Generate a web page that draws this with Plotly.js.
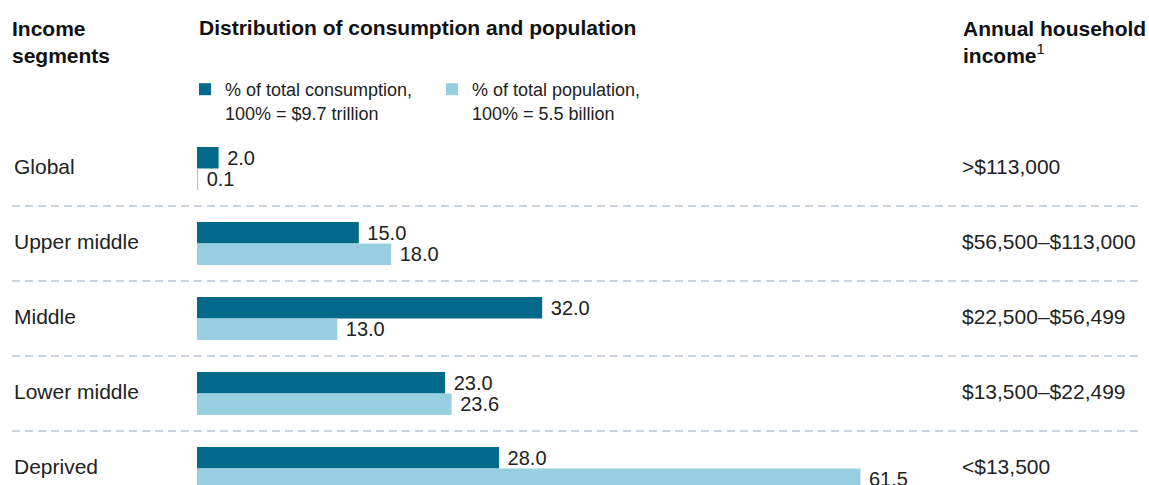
<!DOCTYPE html>
<html>
<head>
<meta charset="utf-8">
<script src="https://cdn.plot.ly/plotly-3.0.1.min.js"></script>
<style>html,body{margin:0;padding:0;background:#fff;}#chart{width:1149px;height:485px;}</style>
</head>
<body>
<div id="chart"></div>
<script>
const segments = ["Global", "Upper middle", "Middle", "Lower middle", "Deprived"];
const consumption = [2.0, 15.0, 32.0, 23.0, 28.0];
const population = [0.1, 18.0, 13.0, 23.6, 61.5];
const incomeRanges = [">$113,000", "$56,500–$113,000", "$22,500–$56,499", "$13,500–$22,499", "<$13,500"];
const consumptionName = "% of total consumption,<br>100% = $9.7 trillion";
const populationName = "% of total population,<br>100% = 5.5 billion";

const FONT = "Liberation Sans, Arial, Helvetica, sans-serif";
const DARK = "#016a8a";
const LIGHT = "#97cfe1";
const TEXT = "#222222";

const W = 1149, H = 485;
const M = {l: 197, r: 89, t: 131, b: 0};
const plotW = W - M.l - M.r, plotH = H - M.t - M.b;
const px = x => (x - M.l) / plotW;          // pixel x -> paper x
const py = y => (H - M.b - y) / plotH;      // pixel y -> paper y

const traces = [
  {
    type: "bar", orientation: "h", name: consumptionName,
    y: segments, x: consumption,
    marker: {color: DARK, line: {width: 0}},
    text: consumption.map(v => "\u00a0" + v.toFixed(1)),
    textposition: "outside", constraintext: "none", cliponaxis: false,
    textfont: {family: FONT, size: 20, color: TEXT},
    hoverinfo: "skip"
  },
  {
    type: "bar", orientation: "h", name: populationName,
    y: segments, x: population,
    marker: {color: LIGHT, line: {width: 0}},
    text: population.map(v => "\u00a0" + v.toFixed(1)),
    textposition: "outside", constraintext: "none", cliponaxis: false,
    textfont: {family: FONT, size: 20, color: TEXT},
    hoverinfo: "skip"
  }
];

const annotations = [];
segments.forEach((s, i) => {
  annotations.push({xref: "paper", yref: "y", x: px(12), y: s, xanchor: "left", yanchor: "middle", yshift: 2,
    text: s, showarrow: false, font: {family: FONT, size: 21, color: TEXT}});
  annotations.push({xref: "paper", yref: "y", x: px(960), y: s, xanchor: "left", yanchor: "middle", yshift: 2,
    text: incomeRanges[i], showarrow: false, font: {family: FONT, size: 21, color: TEXT}});
});
annotations.push({xref: "paper", yref: "paper", x: px(10), y: py(41.5), xanchor: "left", yanchor: "middle",
  align: "left", text: "Income<br>segments", showarrow: false,
  font: {family: FONT, size: 21, color: "#111", weight: "bold"}});
annotations.push({xref: "paper", yref: "paper", x: px(961), y: py(41.5), xanchor: "left", yanchor: "middle",
  align: "left", text: "Annual household<br>income<span style=\"font-weight:normal\"><sup>1</sup></span>", showarrow: false,
  font: {family: FONT, size: 21, color: "#111", weight: "bold"}});

const shapes = [];
for (let i = 0; i < segments.length - 1; i++) {
  shapes.push({type: "line", xref: "paper", yref: "y", x0: px(12), x1: px(1140), y0: i + 0.5, y1: i + 0.5,
    line: {color: "#b9c6d3", width: 1.5, dash: "8px,5px"}, layer: "below"});
}

const layout = {
  width: W, height: H,
  margin: M,
  paper_bgcolor: "#fff", plot_bgcolor: "#fff",
  font: {family: FONT, color: TEXT},
  title: {text: "Distribution of consumption and population", xref: "paper", x: px(199), xanchor: "left",
    yref: "container", y: 1 - 28 / H, yanchor: "middle",
    font: {family: FONT, size: 21, color: "#111", weight: "bold"}},
  barmode: "group", bargap: 1 - 43 / 75, bargroupgap: 0,
  xaxis: {range: [0, 80], visible: false, fixedrange: true},
  yaxis: {type: "category", categoryorder: "array", categoryarray: segments,
    range: [segments.length - 1 + (plotH / 75 - segments.length) + 0.5, -0.5],
    showticklabels: false, showgrid: false, zeroline: false, showline: false, ticks: "", fixedrange: true},
  showlegend: true,
  legend: {orientation: "h", x: px(185), xanchor: "left", y: py(71), yanchor: "top",
    traceorder: "normal", valign: "top", entrywidth: 202, entrywidthmode: "pixels",
    font: {family: FONT, size: 18, color: TEXT}, bgcolor: "rgba(0,0,0,0)", borderwidth: 0},
  annotations: annotations,
  shapes: shapes
};

Plotly.newPlot("chart", traces, layout, {displayModeBar: false, staticPlot: true});
</script>
</body>
</html>
